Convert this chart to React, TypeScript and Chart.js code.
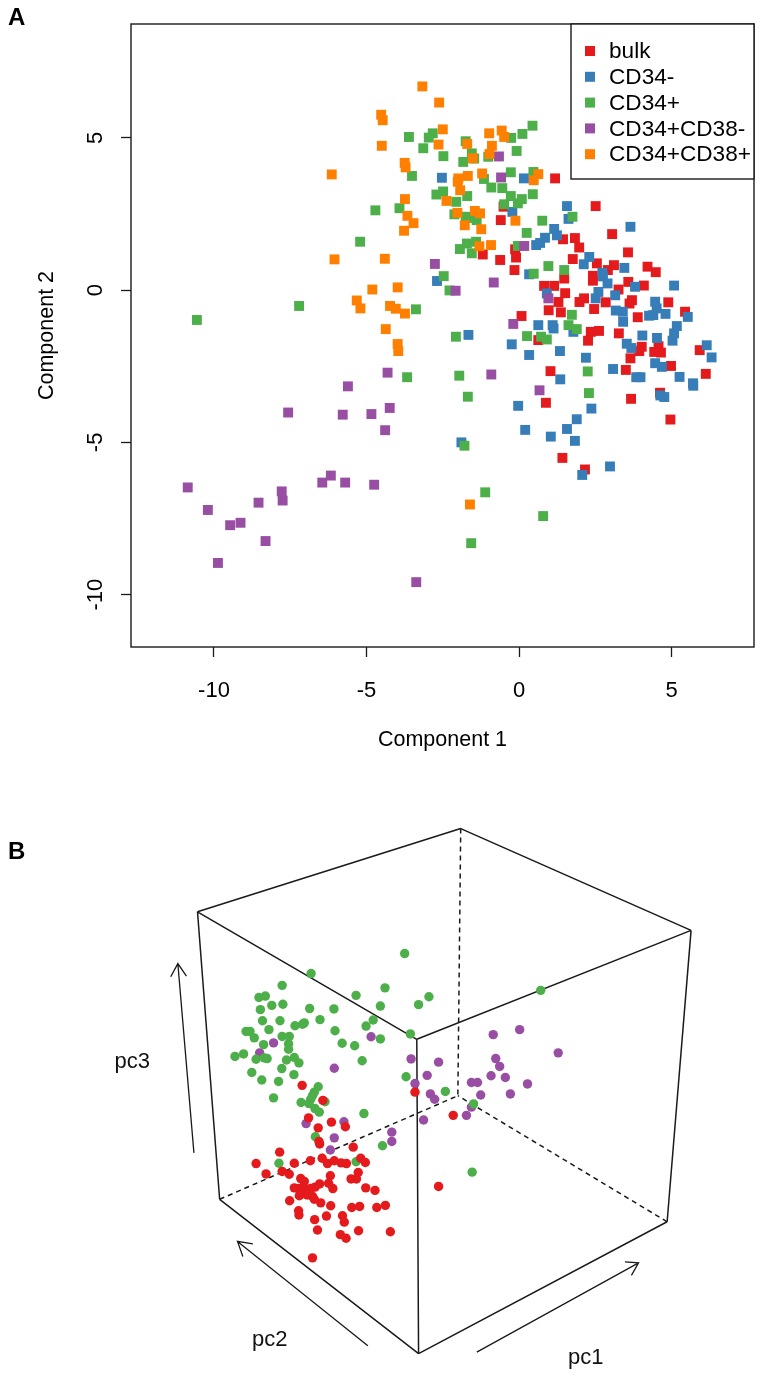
import React, { useEffect, useRef } from "react";
import { Chart, registerables } from "chart.js";

Chart.register(...registerables);

type P = [number, number];

const bulk: P[] = [[1.18,3.67],[2.51,2.76],[-0.51,2.74],[-0.60,2.30],[3.05,1.84],[1.44,1.67],[1.83,1.71],[1.97,1.40],[3.57,1.24],[-0.13,1.34],[-1.19,1.17],[-0.10,1.07],[-0.62,0.99],[1.76,1.02],[2.55,0.88],[3.11,0.82],[4.21,0.77],[4.48,0.59],[2.91,0.66],[-0.15,0.66],[1.48,0.38],[2.42,0.47],[2.42,0.31],[0.82,0.14],[1.15,0.14],[3.58,0.27],[4.09,0.15],[3.26,0.02],[1.51,-0.10],[2.13,-0.27],[1.98,-0.39],[3.70,-0.33],[3.62,-0.44],[2.84,-0.40],[1.29,-0.39],[4.89,-0.40],[5.44,-0.71],[0.97,-0.66],[1.37,-0.73],[2.46,-0.62],[3.89,-0.89],[0.08,-0.85],[0.63,-1.64],[2.35,-1.37],[2.62,-1.34],[2.26,-1.66],[3.27,-1.42],[4.02,-1.86],[3.94,-2.00],[3.65,-2.24],[4.57,-1.84],[4.43,-2.03],[4.65,-2.05],[5.92,-1.97],[4.98,-2.49],[3.50,-2.62],[1.03,-2.66],[6.12,-2.75],[4.62,-3.37],[3.67,-3.57],[0.88,-3.70],[4.96,-4.25],[1.42,-5.51],[2.16,-5.89]];

const cd34Minus: P[] = [[-2.53,3.69],[-2.69,0.30],[0.16,3.67],[-0.22,2.57],[0.56,1.48],[0.69,1.55],[0.85,1.72],[1.15,2.01],[1.24,1.80],[1.57,2.76],[1.62,2.34],[3.65,2.08],[2.30,1.09],[2.12,0.85],[3.45,0.73],[2.73,0.57],[2.75,0.45],[0.33,0.52],[5.08,0.15],[2.90,0.22],[3.80,0.11],[2.60,-0.06],[3.15,-0.17],[2.51,-0.27],[0.91,-0.11],[4.46,-0.38],[4.51,-0.60],[3.17,-0.67],[3.40,-0.71],[4.80,-0.78],[4.26,-0.84],[4.40,-0.82],[5.53,-0.88],[3.41,-1.04],[5.17,-1.18],[0.63,-1.15],[1.10,-1.15],[1.13,-1.26],[1.78,-1.37],[-1.66,-1.47],[-0.24,-1.78],[0.33,-2.13],[1.34,-2.00],[2.19,-2.22],[4.04,-1.49],[4.52,-1.57],[5.08,-1.42],[5.03,-1.66],[3.53,-1.76],[3.68,-1.90],[6.15,-1.81],[6.31,-2.21],[4.46,-2.40],[4.68,-2.52],[3.08,-2.59],[5.26,-2.85],[3.84,-2.86],[3.98,-2.86],[1.35,-2.93],[5.70,-3.06],[5.71,-3.14],[4.63,-3.46],[4.76,-3.51],[-0.03,-3.80],[2.37,-3.89],[1.89,-4.24],[1.57,-4.56],[0.20,-4.59],[1.04,-4.81],[1.83,-4.95],[-1.89,-5.00],[2.98,-5.79],[2.07,-6.07]];

const cd34Plus: P[] = [[-3.61,5.03],[-2.96,5.01],[-2.83,5.15],[-3.14,4.66],[-2.48,4.40],[-3.51,3.75],[-2.71,3.14],[-2.49,3.24],[-4.71,2.62],[-3.92,2.69],[-5.21,1.59],[-2.47,0.46],[-2.28,-0.01],[-7.21,-0.52],[-3.38,-0.63],[-10.56,-0.98],[-3.67,-2.86],[0.44,5.40],[0.11,5.13],[-0.26,5.00],[-0.08,4.57],[-1.75,4.89],[-1.55,4.49],[-1.83,4.21],[-1.47,4.32],[-1.01,4.38],[-0.27,3.87],[0.47,3.88],[-1.15,3.65],[-0.91,3.37],[-0.55,3.35],[-1.70,3.09],[-2.06,2.90],[-0.27,3.09],[0.09,2.99],[-0.04,2.85],[-0.49,2.82],[0.45,3.15],[-2.12,2.49],[-1.75,2.41],[-1.55,2.37],[-1.39,2.30],[0.76,2.28],[0.25,1.88],[-1.94,1.35],[-1.71,1.53],[-1.41,1.59],[-1.55,1.21],[-0.04,1.45],[1.75,2.41],[0.96,0.79],[1.48,0.66],[0.48,0.54],[1.73,-0.81],[1.62,-1.15],[-2.07,-1.53],[0.26,-1.51],[0.72,-1.53],[0.91,-1.62],[1.89,-1.28],[-1.96,-2.81],[-1.68,-3.50],[2.25,-2.67],[2.29,-3.38],[-1.79,-5.11],[-1.11,-6.64],[0.79,-7.42],[-1.57,-8.31]];

const cd34PlusCd38Minus: P[] = [[-4.31,-2.71],[-5.61,-3.16],[-7.57,-4.02],[-5.78,-4.09],[-4.84,-4.07],[-4.24,-3.87],[-4.39,-4.60],[-6.17,-6.09],[-6.45,-6.32],[-5.70,-6.32],[-4.75,-6.39],[-10.86,-6.48],[-7.78,-6.61],[-7.75,-6.91],[-8.54,-6.98],[-10.20,-7.22],[-9.13,-7.64],[-9.47,-7.72],[-8.31,-8.24],[-9.87,-8.96],[-3.37,-9.59],[-2.76,0.86],[-0.66,4.39],[-0.59,3.70],[0.17,1.45],[-0.83,0.25],[-2.08,-0.02],[0.96,-0.27],[-0.19,-1.11],[-0.91,-2.77],[0.67,-3.29]];

const cd34PlusCd38Plus: P[] = [[-3.17,6.69],[-2.62,6.16],[-4.52,5.76],[-4.47,5.58],[-2.50,5.28],[-2.64,4.78],[-4.50,4.74],[-3.75,4.18],[-3.72,4.03],[-6.14,3.80],[-3.74,2.99],[-2.38,2.93],[-3.66,2.44],[-3.46,2.20],[-3.77,1.95],[-6.05,1.01],[-4.40,1.03],[-3.98,0.09],[-4.81,0.02],[-5.32,-0.34],[-5.20,-0.60],[-4.23,-0.52],[-4.04,-0.61],[-3.74,-0.77],[-4.37,-1.28],[-3.98,-1.77],[-3.96,-2.00],[-1.61,-7.04],[-1.70,4.80],[-0.98,5.15],[-0.57,5.24],[-0.49,5.03],[-0.89,4.74],[-0.97,4.47],[-1.52,4.33],[-1.21,3.83],[-1.68,3.75],[-1.99,3.67],[-2.01,3.56],[-1.93,3.28],[0.63,3.81],[0.48,3.61],[-2.02,2.54],[-1.45,2.60],[-1.28,2.52],[-1.78,2.13],[-1.24,2.00],[-0.12,2.28],[-1.30,1.44],[-0.92,1.48]];

const seriesNames = ["bulk", "CD34-", "CD34+", "CD34+CD38-", "CD34+CD38+"];
const seriesColors = ["#E41A1C", "#377EB8", "#4DAF4A", "#984EA3", "#FF7F00"];
const seriesA = [bulk, cd34Minus, cd34Plus, cd34PlusCd38Minus, cd34PlusCd38Plus];

const xTicksA = [-10, -5, 0, 5];
const yTicksA = [-10, -5, 0, 5];

// Panel B: projected plane of the 3D view, in drawing units.
const greenB: P[] = [[713,402],[451,458],[370,491],[658,498],[1094,505],[577,519],[781,523],[305,525],[323,521],[372,544],[341,547],[752,545],[645,549],[447,556],[515,557],[309,559],[476,587],[625,588],[315,590],[364,590],[432,596],[427,600],[406,604],[605,605],[333,615],[518,618],[269,620],[280,620],[292,638],[729,627],[645,641],[370,634],[390,634],[538,653],[573,660],[388,655],[388,670],[318,657],[262,683],[238,690],[297,698],[320,694],[328,696],[382,700],[404,693],[417,708],[594,702],[369,724],[285,735],[403,741],[717,747],[313,756],[360,760],[346,806],[471,775],[460,790],[455,800],[450,810],[423,819],[445,822],[490,817],[462,836],[474,846],[599,850],[827,788],[906,823],[463,915],[651,940],[577,985],[361,989],[902,1014]];

const purpleB: P[] = [[346,652],[307,680],[619,635],[516,723],[961,629],[1035,615],[1143,680],[731,697],[808,706],[968,696],[979,718],[776,743],[955,744],[995,749],[1057,767],[742,766],[900,763],[917,763],[785,795],[797,810],[926,798],[1009,795],[900,832],[886,855],[766,868],[437,878],[543,873],[516,918],[677,902],[677,928],[505,952]];

const redB: P[] = [[426,771],[484,813],[742,790],[849,855],[444,862],[508,874],[547,887],[471,890],[475,935],[473,928],[569,944],[363,958],[297,990],[404,989],[449,982],[482,975],[497,990],[516,982],[535,988],[550,990],[590,975],[603,987],[325,1019],[370,1012],[390,1020],[505,1024],[583,1015],[578,1033],[563,1033],[422,1032],[432,1040],[500,1045],[475,1047],[462,1056],[512,1060],[404,1058],[415,1060],[430,1055],[440,1065],[450,1060],[425,1075],[440,1078],[455,1082],[418,1080],[460,1090],[478,1100],[391,1094],[604,1058],[630,1065],[506,1108],[565,1113],[587,1110],[635,1113],[659,1107],[416,1122],[417,1134],[494,1137],[461,1147],[539,1136],[544,1154],[808,1054],[469,1176],[584,1178],[673,1181],[533,1189],[549,1199],[455,1254]];

const topBack: P = [870, 52];
const topLeft: P = [133, 285];
const topRight: P = [1515, 337];
const topFront: P = [747, 642];
const bottomLeft: P = [195, 1090];
const bottomRight: P = [1448, 1153];
const bottomFront: P = [752, 1522];
const bottomBack: P = [862, 800];

const solidEdges: P[][] = [
  [topBack, topLeft],
  [topBack, topRight],
  [topLeft, topFront],
  [topRight, topFront],
  [topLeft, bottomLeft],
  [topRight, bottomRight],
  [topFront, bottomFront],
  [bottomLeft, bottomFront],
  [bottomRight, bottomFront],
];
const dashedEdges: P[][] = [
  [topBack, bottomBack],
  [bottomLeft, bottomBack],
  [bottomRight, bottomBack],
];
const arrows: P[][] = [
  [[123, 960], [78, 430]],
  [[58, 467], [78, 430], [102, 465]],
  [[610, 1500], [245, 1208]],
  [[260, 1250], [245, 1208], [288, 1215]],
  [[915, 1518], [1368, 1268]],
  [[1330, 1265], [1368, 1268], [1348, 1303]],
];
const axisLabelsB: { text: string; at: P }[] = [
  { text: "pc3", at: [-50, 706] },
  { text: "pc2", at: [335, 1485] },
  { text: "pc1", at: [1220, 1535] },
];

const FONT = '"Liberation Sans", Arial, sans-serif';
const INK = "#1a1a1a";

const toPts = (list: P[]) => list.map(([x, y]) => ({ x, y }));
const polylines = (lines: P[][]) => {
  const out: ({ x: number; y: number } | { x: null; y: null })[] = [];
  lines.forEach((l) => {
    l.forEach(([x, y]) => out.push({ x, y }));
    out.push({ x: null, y: null });
  });
  return out;
};

const panelLetter = (text: string, x: number, y: number) => ({
  id: "panelLetter" + text,
  afterDraw(chart: any) {
    const c = chart.ctx;
    c.save();
    c.fillStyle = "#000";
    c.font = `bold 24px ${FONT}`;
    c.textAlign = "left";
    c.textBaseline = "alphabetic";
    c.fillText(text, x, y);
    c.restore();
  },
});

const boxAndLegend = {
  id: "boxAndLegend",
  afterDatasetsDraw(chart: any) {
    const c = chart.ctx;
    const { left, top, width, height } = chart.chartArea;
    c.save();
    c.strokeStyle = INK;
    c.lineWidth = 1.4;
    c.strokeRect(left, top, width, height);

    // y tick labels, rotated as in base R
    c.fillStyle = "#000";
    c.font = `22px ${FONT}`;
    c.textAlign = "center";
    c.textBaseline = "middle";
    yTicksA.forEach((v) => {
      c.save();
      c.translate(96, chart.scales.y.getPixelForValue(v));
      c.rotate(-Math.PI / 2);
      c.fillText(String(v), 0, 0);
      c.restore();
    });

    // legend
    const lx = 571;
    const ly = top;
    const lw = left + width - lx;
    const lh = 155;
    c.fillStyle = "#fff";
    c.fillRect(lx, ly, lw, lh);
    c.strokeRect(lx, ly, lw, lh);
    c.font = `22.6px ${FONT}`;
    c.textAlign = "left";
    chart.data.datasets.forEach((d: any, i: number) => {
      const rowY = ly + 27 + i * 25.8;
      c.fillStyle = d.backgroundColor;
      c.fillRect(lx + 14, rowY - 5, 10, 10);
      c.fillStyle = "#000";
      c.fillText(d.label, lx + 38, rowY + 1);
    });
    c.restore();
  },
};

const textLabelsB = {
  id: "textLabelsB",
  afterDraw(chart: any) {
    const c = chart.ctx;
    c.save();
    c.fillStyle = "#111";
    c.font = `22px ${FONT}`;
    c.textAlign = "center";
    c.textBaseline = "middle";
    axisLabelsB.forEach(({ text, at }) => {
      c.fillText(text, chart.scales.x.getPixelForValue(at[0]), chart.scales.y.getPixelForValue(at[1]));
    });
    c.restore();
  },
};

export default function App() {
  const refA = useRef<HTMLCanvasElement>(null);
  const refB = useRef<HTMLCanvasElement>(null);

  useEffect(() => {
    const chartA = new Chart(refA.current as HTMLCanvasElement, {
      type: "scatter",
      data: {
        datasets: seriesA.map((s, i) => ({
          label: seriesNames[i],
          data: toPts(s),
          backgroundColor: seriesColors[i],
          borderWidth: 0,
          pointStyle: "rect",
          pointRadius: 7,
          order: 5 - i,
        })),
      },
      options: {
        animation: false,
        responsive: false,
        layout: { autoPadding: false, padding: { top: 24, right: 9 } },
        plugins: { legend: { display: false }, tooltip: { enabled: false } },
        scales: {
          x: {
            type: "linear",
            min: -12.72,
            max: 7.7,
            afterFit: (s: any) => {
              s.height = 124;
            },
            afterBuildTicks: (s: any) => {
              s.ticks = xTicksA.map((value) => ({ value }));
            },
            border: { display: false },
            grid: { drawOnChartArea: false, drawTicks: true, tickLength: 10, tickColor: INK, tickWidth: 1.3 },
            ticks: {
              color: "#000",
              padding: 21,
              maxRotation: 0,
              font: { family: FONT, size: 22 },
              callback: (v: any) => String(v),
            },
            title: {
              display: true,
              text: "Component 1",
              color: "#000",
              font: { family: FONT, size: 21.5 },
              padding: { top: 0, bottom: 18 },
            },
          },
          y: {
            type: "linear",
            min: -11.72,
            max: 8.74,
            afterFit: (s: any) => {
              s.width = 131;
            },
            afterBuildTicks: (s: any) => {
              s.ticks = yTicksA.map((value) => ({ value }));
            },
            border: { display: false },
            grid: { drawOnChartArea: false, drawTicks: true, tickLength: 10, tickColor: INK, tickWidth: 1.3 },
            ticks: { display: false },
            title: {
              display: true,
              text: "Component 2",
              color: "#000",
              font: { family: FONT, size: 21.5 },
              padding: { top: 34, bottom: 0 },
            },
          },
        },
      },
      plugins: [boxAndLegend, panelLetter("A", 8, 25)],
    } as any);

    const lineStyle = { showLine: true, pointRadius: 0, spanGaps: false, borderColor: INK, borderWidth: 1.5, backgroundColor: "transparent" };
    const chartB = new Chart(refB.current as HTMLCanvasElement, {
      type: "scatter",
      data: {
        datasets: [
          { label: "cube", data: polylines(solidEdges), order: 5, ...lineStyle },
          { label: "cube hidden", data: polylines(dashedEdges), order: 5, borderDash: [5, 4], ...lineStyle },
          { label: "directions", data: polylines(arrows), order: 5, ...lineStyle, borderWidth: 1.3 },
          { label: "purple", data: toPts(purpleB), order: 3, backgroundColor: seriesColors[3], borderWidth: 0, pointRadius: 4.7 },
          { label: "green", data: toPts(greenB), order: 2, backgroundColor: seriesColors[2], borderWidth: 0, pointRadius: 4.7 },
          { label: "red", data: toPts(redB), order: 1, backgroundColor: seriesColors[0], borderWidth: 0, pointRadius: 4.7 },
        ],
      },
      options: {
        animation: false,
        responsive: false,
        layout: { autoPadding: false, padding: 0 },
        plugins: { legend: { display: false }, tooltip: { enabled: false } },
        scales: {
          x: { type: "linear", display: false, min: -420, max: 1716.4 },
          y: { type: "linear", display: false, reverse: true, min: -109.2, max: 1593.2 },
        },
      },
      plugins: [textLabelsB, panelLetter("B", 8, 859 - 771)],
    } as any);

    return () => {
      chartA.destroy();
      chartB.destroy();
    };
  }, []);

  return (
    <>
      <style>{"html,body{margin:0;padding:0;background:#fff}canvas{display:block}"}</style>
      <canvas ref={refA} width={763} height={771} style={{ width: 763, height: 771 }} />
      <canvas ref={refB} width={763} height={608} style={{ width: 763, height: 608 }} />
    </>
  );
}
